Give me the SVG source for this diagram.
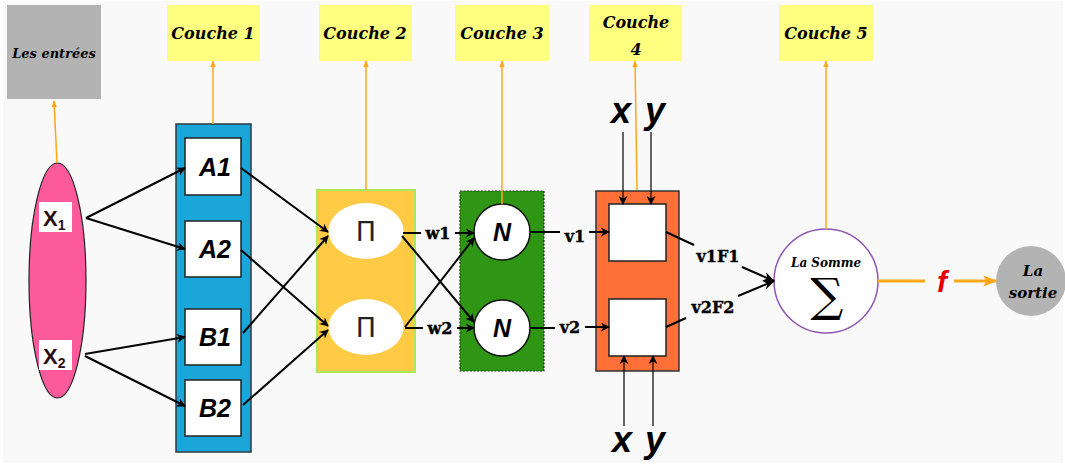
<svg xmlns="http://www.w3.org/2000/svg" width="1065" height="465" viewBox="0 0 1065 465">
<defs>
<marker id="ab" viewBox="0 0 10 10" refX="9" refY="5" markerWidth="9" markerHeight="9" orient="auto" markerUnits="userSpaceOnUse"><path d="M0,0 L10,5 L0,10 L3,5 z" fill="#000"/></marker>
<marker id="abs" viewBox="0 0 10 10" refX="9" refY="5" markerWidth="12" markerHeight="12" orient="auto" markerUnits="userSpaceOnUse"><path d="M0,1 L10,5 L0,9 L3,5 z" fill="#000"/></marker>
<marker id="ao" viewBox="0 0 10 10" refX="9" refY="5" markerWidth="7" markerHeight="7" orient="auto" markerUnits="userSpaceOnUse"><path d="M0,1 L10,5 L0,9 z" fill="#ffa71a"/></marker>
<marker id="aol" viewBox="0 0 10 10" refX="9" refY="5" markerWidth="14" markerHeight="14" orient="auto" markerUnits="userSpaceOnUse"><path d="M0,1 L10,5 L0,9 L2,5 z" fill="#ffa71a"/></marker>
</defs>
<style>
.lab{font-family:"DejaVu Serif","Liberation Serif",serif;font-weight:bold;font-style:italic;fill:#000;text-anchor:middle}
.yel{fill:#ffff80}
.box{fill:#fff;stroke:#222;stroke-width:1.5}
.big{font-family:"Liberation Sans",Arial,sans-serif;font-weight:bold;font-style:italic;font-size:25px;text-anchor:middle;fill:#000}
.xy{font-family:"Liberation Sans",Arial,sans-serif;font-weight:bold;font-style:italic;font-size:36px;text-anchor:middle;fill:#000}
.wl{font-family:"DejaVu Serif","Liberation Serif",serif;font-weight:bold;font-size:16px;text-anchor:middle;fill:#000;stroke:#000;stroke-width:0.4}
.pi{font-family:"DejaVu Sans",sans-serif;font-size:27px;text-anchor:middle;fill:#222}
.blk{stroke:#000;stroke-width:2;fill:none}
.thin{stroke:#000;stroke-width:1.2;fill:none}
.or{stroke:#ffa71a;stroke-width:1.5;fill:none}
</style>
<rect x="0" y="0" width="1065" height="465" fill="#fff"/>
<rect x="3" y="1" width="1060" height="462" fill="#f9f9f9"/>

<g id="n-entrees"><rect x="7" y="5" width="94" height="94" fill="#b3b3b3"/><text class="lab" x="54" y="58" font-size="13">Les entrées</text></g>
<g id="n-c1"><rect class="yel" x="167" y="5" width="93" height="56"/><text class="lab" x="213" y="39" font-size="16">Couche 1</text></g>
<g id="n-c2"><rect class="yel" x="319" y="5" width="93" height="56"/><text class="lab" x="365" y="39" font-size="16">Couche 2</text></g>
<g id="n-c3"><rect class="yel" x="455" y="5" width="94" height="56"/><text class="lab" x="502" y="39" font-size="16">Couche 3</text></g>
<g id="n-c4"><rect class="yel" x="589" y="5" width="93" height="56"/><text class="lab" x="636" y="28" font-size="16">Couche</text><text class="lab" x="636" y="55" font-size="16">4</text></g>
<g id="n-c5"><rect class="yel" x="779" y="5" width="94" height="56"/><text class="lab" x="826" y="39" font-size="16">Couche 5</text></g>

<g id="n-inputs">
<ellipse cx="57.5" cy="280.5" rx="28.5" ry="117.5" fill="#fd5a9c" stroke="#222" stroke-width="1.2"/>
<rect x="39" y="202" width="33" height="30" fill="#fff"/>
<text x="43" y="226" font-family="Liberation Sans,Arial,sans-serif" font-weight="bold" font-size="22" fill="#2a1010">X<tspan font-size="14" dy="4">1</tspan></text>
<rect x="39" y="340" width="33" height="30" fill="#fff"/>
<text x="43" y="364" font-family="Liberation Sans,Arial,sans-serif" font-weight="bold" font-size="22" fill="#2a1010">X<tspan font-size="14" dy="4">2</tspan></text>
</g>

<g id="n-layer1">
<rect x="176" y="124" width="75" height="328" fill="#1aa6d8" stroke="#2b3b45" stroke-width="1.5"/>
<rect class="box" x="185" y="138" width="56" height="57"/><text class="big" x="215" y="176">A1</text>
<rect class="box" x="185" y="221" width="56" height="56"/><text class="big" x="215" y="258">A2</text>
<rect class="box" x="185" y="309" width="56" height="56"/><text class="big" x="215" y="346">B1</text>
<rect class="box" x="185" y="380" width="56" height="56"/><text class="big" x="215" y="417">B2</text>
</g>

<g id="n-layer2">
<rect x="317" y="190" width="98" height="182" fill="#ffcb45" stroke="#a8e860" stroke-width="2"/>
<ellipse cx="366" cy="231" rx="37.5" ry="28" fill="#fff"/>
<text class="pi" x="366" y="241">Π</text>
<ellipse cx="366" cy="327" rx="37.5" ry="28" fill="#fff"/>
<text class="pi" x="366" y="337">Π</text>
</g>
<g id="w-labels"><text class="wl" x="438" y="239">w1</text><text class="wl" x="440" y="334">w2</text></g>

<g id="n-layer3">
<rect x="460" y="191" width="84" height="180" fill="#2e9614" stroke="#1a3a10" stroke-width="1.2" stroke-dasharray="2,1.5"/>
<circle cx="502" cy="232" r="28" fill="#fff" stroke="#111" stroke-width="1.5"/>
<text class="big" x="502" y="241" font-size="22">N</text>
<circle cx="502" cy="328" r="28" fill="#fff" stroke="#111" stroke-width="1.5"/>
<text class="big" x="502" y="337" font-size="22">N</text>
</g>
<g id="v-labels"><text class="wl" x="575" y="242">v1</text><text class="wl" x="570" y="333">v2</text></g>

<g id="n-layer4">
<rect x="596" y="191" width="83" height="180" fill="#ff6f38" stroke="#333" stroke-width="1.5"/>
<rect class="box" x="609" y="204" width="57" height="57"/>
<rect class="box" x="609" y="299" width="57" height="57"/>
</g>
<g id="xy-labels">
<text class="xy" x="621" y="123">x</text><text class="xy" x="655" y="123">y</text>
<text class="xy" x="622" y="452">x</text><text class="xy" x="655" y="452">y</text>
</g>
<g id="f-labels"><text class="wl" x="718" y="262">v1F1</text><text class="wl" x="713" y="313">v2F2</text></g>

<g id="n-somme">
<circle cx="826" cy="281" r="52" fill="#fff" stroke="#9156b3" stroke-width="1.5"/>
<text class="lab" x="826" y="267" font-size="12">La Somme</text>
<text x="827" y="311" font-family="DejaVu Serif,serif" font-size="46" text-anchor="middle" fill="#000">∑</text>
</g>
<g id="f-label"><text x="942" y="292" font-family="Liberation Sans,Arial,sans-serif" font-weight="bold" font-style="italic" font-size="30" text-anchor="middle" fill="#e50000">f</text></g>
<g id="n-sortie">
<circle cx="1031" cy="281" r="35" fill="#b3b3b3"/>
<text class="lab" x="1033" y="276" font-size="15">La</text>
<text class="lab" x="1033" y="298" font-size="15">sortie</text>
</g>

<g id="connectors">
<line class="or" x1="57" y1="163" x2="54" y2="101" marker-end="url(#ao)"/>
<line class="or" x1="213" y1="124" x2="213" y2="61" marker-end="url(#ao)"/>
<line class="or" x1="366" y1="190" x2="366" y2="61" marker-end="url(#ao)"/>
<line class="or" x1="502" y1="204" x2="502" y2="61" marker-end="url(#ao)"/>
<line class="or" x1="637" y1="190" x2="635" y2="61" marker-end="url(#ao)"/>
<line class="or" x1="826" y1="229" x2="826" y2="61" marker-end="url(#ao)"/>
<line class="blk" x1="86" y1="218" x2="185" y2="168" marker-end="url(#ab)"/>
<line class="blk" x1="86" y1="218" x2="185" y2="249" marker-end="url(#ab)"/>
<line class="blk" x1="85" y1="354" x2="185" y2="337" marker-end="url(#ab)"/>
<line class="blk" x1="85" y1="356" x2="185" y2="406" marker-end="url(#ab)"/>
<line class="blk" x1="241" y1="168" x2="328" y2="232" marker-end="url(#ab)"/>
<line class="blk" x1="241" y1="250" x2="328" y2="326" marker-end="url(#ab)"/>
<line class="blk" x1="243" y1="333" x2="328" y2="236" marker-end="url(#ab)"/>
<line class="blk" x1="243" y1="405" x2="328" y2="330" marker-end="url(#ab)"/>
<line class="blk" x1="403" y1="233" x2="421" y2="233"/>
<line class="blk" x1="455" y1="233" x2="474" y2="233" marker-end="url(#ab)"/>
<line class="blk" x1="405" y1="328" x2="423" y2="328"/>
<line class="blk" x1="457" y1="328" x2="474" y2="328" marker-end="url(#ab)"/>
<line class="blk" x1="402" y1="236" x2="474" y2="322" marker-end="url(#ab)"/>
<line class="blk" x1="405" y1="327" x2="474" y2="238" marker-end="url(#ab)"/>
<line class="blk" x1="530" y1="232" x2="560" y2="232"/>
<line class="blk" x1="589" y1="232" x2="609" y2="232" marker-end="url(#ab)"/>
<line class="blk" x1="530" y1="328" x2="555" y2="328"/>
<line class="blk" x1="585" y1="327" x2="609" y2="327" marker-end="url(#ab)"/>
<line class="thin" x1="623" y1="132" x2="623" y2="204" marker-end="url(#ab)"/>
<line class="thin" x1="651" y1="132" x2="651" y2="204" marker-end="url(#ab)"/>
<line class="thin" x1="624" y1="426" x2="624" y2="356" marker-end="url(#ab)"/>
<line class="thin" x1="653" y1="426" x2="653" y2="356" marker-end="url(#ab)"/>
<line class="blk" x1="666" y1="232" x2="694" y2="245"/>
<line class="blk" x1="742" y1="267" x2="774" y2="281" marker-end="url(#abs)"/>
<line class="blk" x1="666" y1="327" x2="686" y2="318"/>
<line class="blk" x1="738" y1="296" x2="774" y2="281" marker-end="url(#abs)"/>
<line stroke="#ffa71a" stroke-width="3" x1="878" y1="281" x2="925" y2="281"/>
<line stroke="#ffa71a" stroke-width="3" x1="954" y1="281" x2="996" y2="281" marker-end="url(#aol)"/>
</g>
</svg>
